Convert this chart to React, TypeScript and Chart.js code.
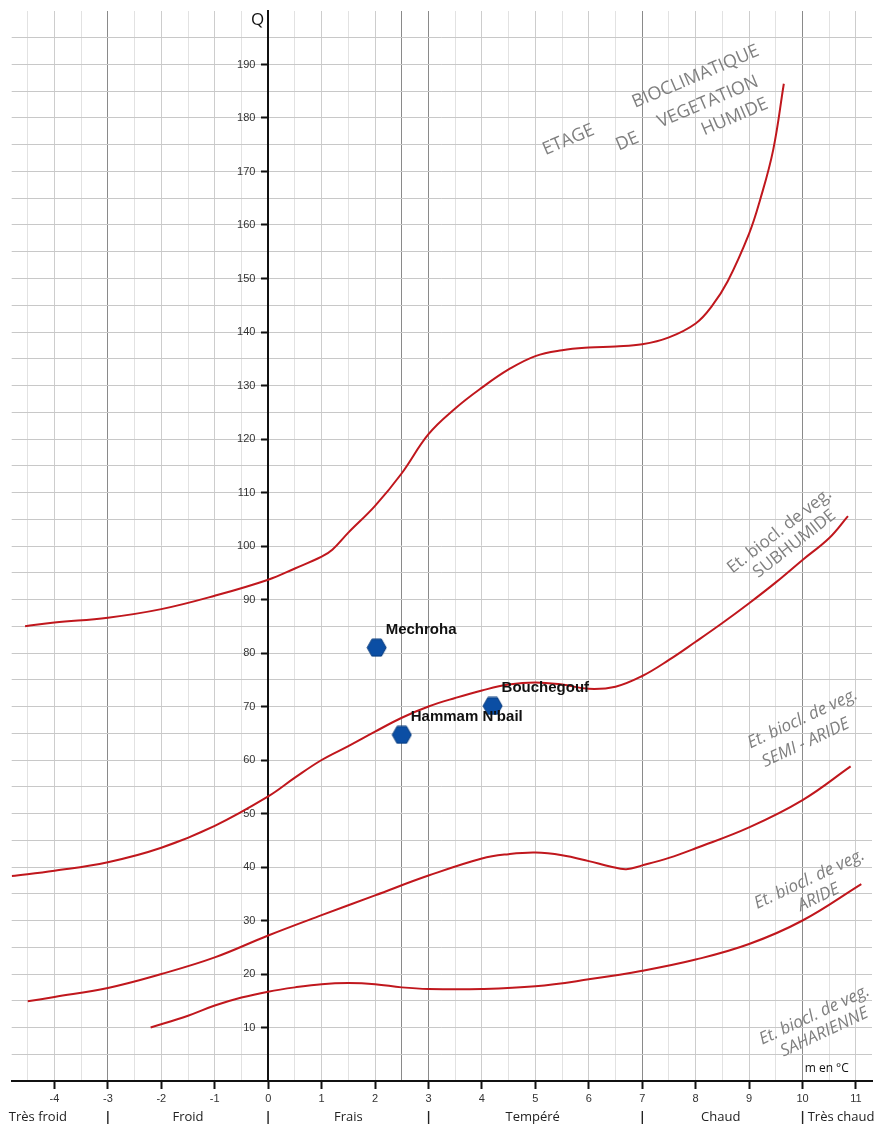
import React, { useEffect, useRef } from 'react';
import { Chart, registerables } from 'chart.js';

Chart.register(...registerables);

// Axis ranges
const X_MIN = -4.8;
const X_MAX = 11.3;
const Y_MIN = 0;
const Y_MAX = 200;

// Tick labels
const X_LABELS = [-4, -3, -2, -1, 0, 1, 2, 3, 4, 5, 6, 7, 8, 9, 10, 11];
const Y_LABELS = [10, 20, 30, 40, 50, 60, 70, 80, 90, 100, 110, 120, 130, 140, 150, 160, 170, 180, 190];
const X_DARK_LINES = [-3, 2.5, 3, 7, 10];

// Temperature zones (bottom legend)
const ZONE_LABELS = ['Très froid', '|', 'Froid', '|', 'Frais', '|', 'Tempéré', '|', 'Chaud', '|', 'Très chaud'];
const ZONE_POS = [-4.31, -3, -1.5, 0, 1.5, 3, 4.95, 7, 8.47, 10, 10.72];

// Boundary humide / subhumide
const HUMIDE_M = [-4.55, -4, -3, -2, -1, 0, 0.5, 1, 1.2, 1.5, 2, 2.5, 3, 3.5, 4, 4.5, 5, 5.5, 6, 6.5, 7, 7.5, 8, 8.3, 8.6, 9, 9.2, 9.45, 9.65];
const HUMIDE_Q = [85, 85.7, 86.6, 88.2, 90.7, 93.7, 95.8, 98, 99.3, 102.5, 107.5, 113.6, 120.9, 125.7, 129.6, 133, 135.5, 136.6, 137.1, 137.3, 137.7, 139, 141.6, 144.8, 149.5, 158.4, 164.5, 174, 186.4];

// Boundary subhumide / semi-aride
const SUBHUMIDE_M = [-4.8, -4, -3, -2, -1, 0, 0.5, 1, 1.5, 2, 2.5, 3, 3.5, 4, 4.5, 5, 5.5, 6, 6.5, 7, 7.5, 8, 8.5, 9, 9.5, 10, 10.5, 10.85];
const SUBHUMIDE_Q = [38.3, 39.3, 40.9, 43.6, 47.7, 53.2, 56.7, 60, 62.6, 65.3, 67.9, 70, 71.6, 73, 74.1, 74.5, 74.1, 73.3, 73.7, 75.7, 78.7, 82.1, 85.6, 89.3, 93.2, 97.4, 101.5, 105.6];

// Boundary semi-aride / aride
const SEMIARIDE_M = [-4.5, -4, -3, -2, -1, 0, 1, 2, 3, 4, 4.5, 5, 5.5, 6, 6.4, 6.7, 7, 7.5, 8, 9, 10, 10.9];
const SEMIARIDE_Q = [14.9, 15.7, 17.4, 20, 23.1, 27.2, 31, 34.7, 38.4, 41.6, 42.4, 42.7, 42.2, 41.1, 40.1, 39.6, 40.3, 41.7, 43.5, 47.4, 52.5, 58.8];

// Boundary aride / saharienne
const ARIDE_M = [-2.2, -1.5, -1, -0.5, 0, 0.5, 1, 1.5, 2, 2.5, 3, 4, 5, 6, 7, 8, 9, 10, 11.1];
const ARIDE_Q = [10, 12.2, 14.1, 15.6, 16.7, 17.5, 18.1, 18.3, 18.1, 17.5, 17.2, 17.2, 17.7, 19, 20.6, 22.7, 25.6, 30, 36.8];

// Stations
const STATION_NAMES = ['Mechroha', "Hammam N'bail", 'Bouchegouf'];
const STATION_M = [2.03, 2.5, 4.2];
const STATION_Q = [81, 64.7, 70.1];

// Zone annotations: text, m, Q, angle, italic
const ANNOT_TEXT = ['ETAGE', 'BIOCLIMATIQUE', 'DE', 'VEGETATION', 'HUMIDE',
  'Et. biocl. de veg.', 'SUBHUMIDE',
  'Et. biocl. de veg.', 'SEMI - ARIDE',
  'Et. biocl. de veg.', 'ARIDE',
  'Et. biocl. de veg.', 'SAHARIENNE'];
const ANNOT_M = [5.62, 8.0, 6.72, 8.23, 8.73, 9.57, 9.85, 10.0, 10.06, 10.13, 10.3, 10.22, 10.41];
const ANNOT_Q = [175.9, 187.7, 175.6, 183.0, 180.2, 102.8, 100.4, 67.7, 63.2, 37.7, 34.3, 12.3, 9.1];
const ANNOT_ANGLE = [-23, -23, -23, -23, -23, -38, -38, -25, -25, -25, -25, -25, -25];
const ANNOT_ITALIC = [false, false, false, false, false, false, false, true, true, true, true, true, true];

const pts = (xs: number[], ys: number[]) => xs.map((v, i) => ({ x: v, y: ys[i] }));

function makeHexagon(): HTMLCanvasElement {
  const c = document.createElement('canvas');
  c.width = 21;
  c.height = 19;
  const g = c.getContext('2d')!;
  const cx = 10.5, cy = 9.5, w = 9.5, h = 8.5;
  g.beginPath();
  g.moveTo(cx - w, cy);
  g.lineTo(cx - w / 2, cy - h);
  g.lineTo(cx + w / 2, cy - h);
  g.lineTo(cx + w, cy);
  g.lineTo(cx + w / 2, cy + h);
  g.lineTo(cx - w / 2, cy + h);
  g.closePath();
  g.fillStyle = '#0b4ea4';
  g.fill();
  g.strokeStyle = '#073a7c';
  g.lineWidth = 1;
  g.stroke();
  return c;
}

const textPlugin = {
  id: 'textPlugin',
  afterDatasetsDraw(chart: any) {
    const { ctx } = chart;
    const xs = chart.scales.x;
    const ys = chart.scales.y;
    ctx.save();
    // station names
    const meta = chart.getDatasetMeta(4);
    ctx.font = "bold 15px 'Liberation Sans', Arial, sans-serif";
    ctx.fillStyle = '#111';
    ctx.textAlign = 'left';
    ctx.textBaseline = 'middle';
    meta.data.forEach((pt: any, i: number) => {
      ctx.fillText(STATION_NAMES[i], pt.x + 9, pt.y - 18);
    });
    // zone annotations
    ANNOT_TEXT.forEach((t, i) => {
      const px = xs.getPixelForValue(ANNOT_M[i]);
      const py = ys.getPixelForValue(ANNOT_Q[i]);
      ctx.save();
      ctx.translate(px, py);
      ctx.rotate((ANNOT_ANGLE[i] * Math.PI) / 180);
      ctx.font = (ANNOT_ITALIC[i] ? 'italic ' : '') + (i < 5 ? '18px' : '17px') + " 'Open Sans', sans-serif";
      ctx.fillStyle = '#7f7f7f';
      ctx.textAlign = 'center';
      ctx.textBaseline = 'middle';
      ctx.fillText(t, 0, 0);
      ctx.restore();
    });
    // axis titles
    ctx.fillStyle = '#111';
    ctx.font = "17px 'Open Sans', sans-serif";
    ctx.textAlign = 'center';
    ctx.fillText('Q', xs.getPixelForValue(-0.2), ys.getPixelForValue(198.3));
    ctx.font = "12px 'Open Sans', sans-serif";
    ctx.textAlign = 'left';
    ctx.fillText('m en °C', xs.getPixelForValue(10.04), ys.getPixelForValue(2.4));
    ctx.restore();
  },
};

export default function App() {
  const ref = useRef<HTMLCanvasElement>(null);
  useEffect(() => {
    document.body.style.margin = '0';
    const hex = makeHexagon();
    const lineDs = (label: string, xs: number[], ys: number[]) => ({
      type: 'line' as const,
      label,
      data: pts(xs, ys),
      borderColor: '#c0171d',
      borderWidth: 2,
      pointRadius: 0,
      showLine: true,
      fill: false,
      tension: 0.4,
    });
    const yTicks = (s: any) => {
      const t = [];
      for (let v = 0; v <= 200; v += 5) t.push({ value: v });
      s.ticks = t;
    };
    const chart = new Chart(ref.current!, {
      type: 'scatter',
      data: {
        datasets: [
          lineDs('humide', HUMIDE_M, HUMIDE_Q),
          lineDs('subhumide', SUBHUMIDE_M, SUBHUMIDE_Q),
          lineDs('semi-aride', SEMIARIDE_M, SEMIARIDE_Q),
          lineDs('aride', ARIDE_M, ARIDE_Q),
          {
            type: 'scatter' as const,
            label: 'stations',
            data: pts(STATION_M, STATION_Q),
            pointStyle: hex,
            pointRadius: 10,
          } as any,
        ],
      },
      options: {
        responsive: false,
        animation: false,
        events: [],
        layout: { padding: { left: 11.7, right: 8.3, top: 9, bottom: 0 } },
        plugins: { legend: { display: false }, tooltip: { enabled: false } },
        scales: {
          x: {
            type: 'linear',
            position: 'bottom',
            min: X_MIN,
            max: X_MAX,
            afterBuildTicks: (s: any) => {
              const t = [];
              for (let v = -4.5; v <= 11; v += 0.5) t.push({ value: v });
              s.ticks = t;
            },
            afterFit: (s: any) => { s.height = 26; },
            grid: {
              color: (c: any) => {
                const v = c.tick ? c.tick.value : null;
                if (v === null) return 'transparent';
                if (X_DARK_LINES.includes(v)) return '#8a8a8a';
                if (Number.isInteger(v)) return '#cdcdcd';
                return '#e2e2e2';
              },
              lineWidth: 1,
              tickColor: (c: any) => (c.tick && X_LABELS.includes(c.tick.value) ? '#111' : 'transparent'),
              tickWidth: 2,
              tickLength: 8,
            },
            border: { display: true, color: '#111', width: 2 },
            ticks: {
              autoSkip: false,
              maxRotation: 0,
              padding: 3,
              color: '#333',
              font: { family: "'Liberation Sans Narrow', 'Liberation Sans', sans-serif", size: 11 },
              callback: (v: any) => (X_LABELS.includes(v) ? String(v) : ''),
            },
          },
          zones: {
            type: 'linear',
            position: 'bottom',
            weight: 1,
            min: X_MIN,
            max: X_MAX,
            afterBuildTicks: (s: any) => {
              s.ticks = ZONE_POS.map((v) => ({ value: v }));
            },
            afterFit: (s: any) => { s.height = 23; },
            grid: { display: false, drawTicks: false },
            border: { display: false },
            ticks: {
              autoSkip: false,
              maxRotation: 0,
              padding: 2,
              color: '#222',
              font: (c: any) => ({
                family: "'Open Sans', sans-serif",
                size: 13,
                weight: ZONE_LABELS[c.index] === '|' ? 'bold' : 'normal',
              }),
              callback: (_v: any, i: number) => ZONE_LABELS[i],
            },
          },
          y: {
            type: 'linear',
            position: { x: 0 } as any,
            min: Y_MIN,
            max: Y_MAX,
            afterBuildTicks: yTicks,
            grid: {
              color: (c: any) => {
                const v = c.tick ? c.tick.value : null;
                if (v === null || v === 0 || v === 200) return 'transparent';
                return '#c8c8c8';
              },
              lineWidth: 1,
              tickColor: (c: any) => (c.tick && Y_LABELS.includes(c.tick.value) ? '#111' : 'transparent'),
              tickWidth: 2,
              tickLength: 6,
            },
            border: { display: true, color: '#111', width: 2 },
            ticks: { display: false },
          },
          yLabels: {
            type: 'linear',
            axis: 'y',
            position: { x: -0.24 } as any,
            min: Y_MIN,
            max: Y_MAX,
            afterBuildTicks: yTicks,
            grid: { display: false, drawTicks: false },
            border: { display: false },
            ticks: {
              autoSkip: false,
              color: '#333',
              font: { family: "'Liberation Sans Narrow', 'Liberation Sans', sans-serif", size: 11 },
              callback: (v: any) => (Y_LABELS.includes(v) ? String(v) : ''),
            },
          },
        },
      },
      plugins: [textPlugin],
    } as any);
    return () => chart.destroy();
  }, []);
  return (
    <div style={{ width: 883, height: 1130 }}>
      <canvas ref={ref} width={883} height={1130} style={{ display: 'block' }} />
    </div>
  );
}
